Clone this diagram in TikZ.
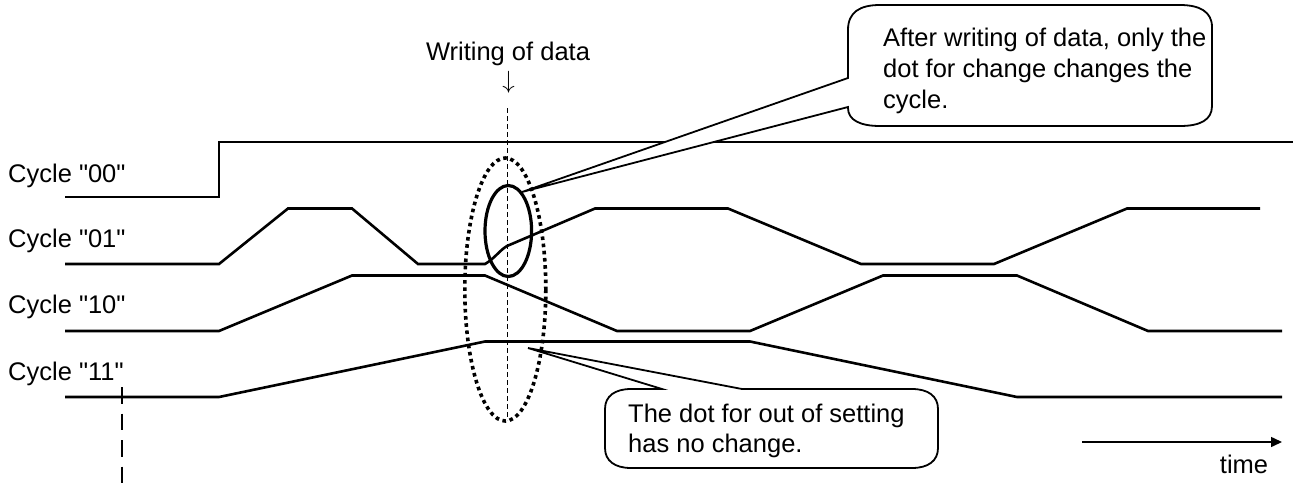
\documentclass[tikz,border=0pt]{standalone}
\usepackage{fontspec}
\setmainfont{Liberation Sans}[Ligatures=TeXOff]
\usetikzlibrary{arrows.meta}
\tikzset{
  sig/.style={line width=2.6pt, line join=miter},
  lbl/.style={inner sep=0pt, font=\fontsize{25.5}{30.5}\selectfont},
  callout/.style={draw, line width=1.8pt, fill=white, line join=miter},
  guide/.style={line width=1.2pt, dash pattern=on 5pt off 3pt},
  tick/.style={line width=1.5pt, dash pattern=on 16.5pt off 10pt},
}
\begin{document}
\begin{tikzpicture}[x=1pt,y=-1pt]
\useasboundingbox (0,0) rectangle (1293,488);
% labels
\node[lbl, anchor=base west] (l00) at (8,182) {Cycle "00"};
\node[lbl, anchor=base west] (l01) at (8,247) {Cycle "01"};
\node[lbl, anchor=base west] (l10) at (8,313) {Cycle "10"};
\node[lbl, anchor=base west] (l11) at (8,380) {Cycle "11"};
\node[lbl, anchor=base] (wd) at (508,60) {Writing of data};
\node[lbl, anchor=base, font=\fontsize{27}{30}\selectfont] (arr) at (508.5,88) {$\downarrow$};
% guides
\coordinate (gtop) at (507.5,108);
\coordinate (gbot) at (507.5,420);
\draw[guide] (gtop) -- (gbot);
\coordinate (ttop) at (122,387);
\coordinate (tbot) at (122,488);
\draw[tick] (ttop) -- (tbot);
% signals
\draw[sig] (65,197) -- (219,197) -- (219,142) -- (1293,142);
\draw[sig] (65,264) -- (219,264) -- (288,208.5) -- (352,208.5) -- (418,264) -- (485,264)
  .. controls (494,259) and (500,250) .. (507,246) -- (595,208.5) -- (728,208.5)
  -- (861,264) -- (994,264) -- (1127,208.5) -- (1260,208.5);
\draw[sig] (65,331) -- (219,331) -- (352,275.5) -- (485,275.5) -- (617,331) -- (750,331)
  -- (883,275.5) -- (1017,275.5) -- (1148,331) -- (1282,331);
\draw[sig] (65,397) -- (219,397) -- (485,341.5) -- (750,341.5) -- (1017,397) -- (1282,397);
% ellipses
\draw[line width=3.2pt] (508.3,231) ellipse [x radius=23.3, y radius=45.5];
\draw[line width=3.6pt, dash pattern=on 3.6pt off 3.6pt] (505.3,289.5) ellipse [x radius=40.5, y radius=131.5];
% callout 1
\coordinate (c1tip) at (522,192);
\draw[callout] (c1tip) -- (848,107) -- (848,108) .. controls (848,120) and (860,126) .. (880,126)
  -- (1180,126) .. controls (1200,126) and (1212,120) .. (1212,106)
  -- (1212,27) .. controls (1212,12) and (1200,5) .. (1180,5)
  -- (880,5) .. controls (860,5) and (848,12) .. (848,30) -- (848,78) -- cycle;
\node[lbl, anchor=north west, align=left, font=\fontsize{25.5}{31}\selectfont] (t1) at (883,27.4) {After writing of data, only the\\dot for change changes the\\cycle.};
% callout 2
\coordinate (c2tip) at (528,348);
\draw[callout] (c2tip) -- (742,389) -- (912,389) .. controls (928,389) and (938,396) .. (938,409)
  -- (938,448) .. controls (938,461) and (928,468) .. (912,468)
  -- (631,468) .. controls (615,468) and (605,461) .. (605,448)
  -- (605,409) .. controls (605,396) and (615,389) .. (631,389) -- (662,389) -- cycle;
\node[lbl, anchor=north west, align=left] (t2) at (628,403.5) {The dot for out of setting\\has no change.};
% time axis
\coordinate (ta) at (1082,442);
\coordinate (tb) at (1282,442);
\draw[line width=1.5pt, -{Triangle[length=11pt,width=10pt]}] (ta) -- (tb);
\node[lbl, anchor=base] (time) at (1244,473) {time};
\end{tikzpicture}
\end{document}
